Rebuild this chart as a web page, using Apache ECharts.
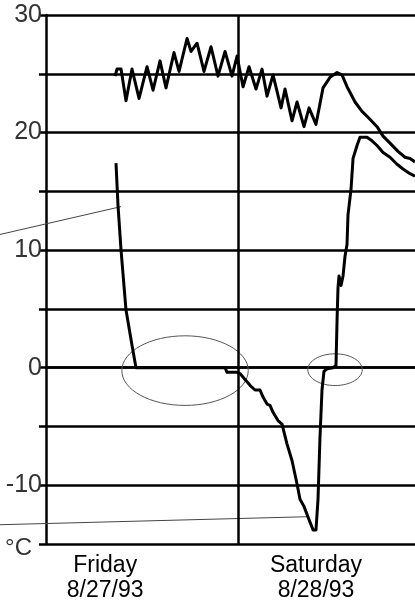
<!DOCTYPE html>
<html>
<head>
<meta charset="utf-8">
<script src="https://cdn.jsdelivr.net/npm/echarts@6/dist/echarts.min.js"></script>
<style>html,body{margin:0;padding:0;background:#fff}#c{width:415px;height:603px}</style>
</head>
<body>
<div id="c"></div>
<script>
// x = hours since Friday 00:00, y = °C
var dayLabelHours = [7.4, 33.75];
var dayLabels = ['Friday\n8/27/93', 'Saturday\n8/28/93'];
var midnightHour = [24];
var yTickLabels = {'30': '30', '20': '20', '10': '10', '0': '0', '-10': '-10', '-15': '°C'};
var unitTickValue = -15;

var upperTemp = [
  [8.63,24.8],[8.88,25.4],[9.38,25.4],[10.0,22.7],[10.75,25.4],[11.63,22.9],[12.63,25.6],
  [13.38,23.6],[14.25,26.1],[15.0,23.8],[16.0,26.8],[16.63,25.2],[17.63,28.0],[18.13,26.9],
  [18.88,27.6],[19.75,25.2],[20.63,27.3],[21.5,24.8],[22.38,26.9],[23.25,24.8],[23.88,26.5],
  [24.63,23.9],[25.38,25.6],[26.25,23.7],[27.0,25.4],[27.63,23.1],[28.38,24.9],[29.38,22.1],
  [29.88,23.7],[30.75,21.0],[31.38,22.6],[32.25,20.5],[32.88,22.1],[33.75,20.7],[34.63,23.8],
  [35.5,24.7],[36.38,25.1],[37.0,24.9],[37.63,23.9],[38.63,22.6],[39.5,21.8],[40.25,21.3],
  [41.38,20.5],[42.13,19.7],[43.0,19.1],[44.0,18.4],[44.88,17.9],[45.5,17.8],[46.13,17.5]
];
var lowerTemp = [
  [8.75,17.4],[9.0,13.8],[9.38,10.0],[10.0,4.9],[10.13,4.4],[10.75,1.9],[11.25,0],
  [22.38,0],[22.63,-0.4],[23.88,-0.4],[24.25,-0.5],[24.88,-1.0],[25.5,-1.5],[26.13,-1.9],
  [26.75,-1.9],[27.13,-2.5],[27.63,-3.1],[28.0,-3.2],[28.38,-3.8],[29.0,-4.5],[29.5,-4.8],
  [30.13,-6.5],[30.75,-7.9],[31.38,-9.9],[31.75,-11.2],[32.25,-11.8],[32.75,-12.7],
  [33.38,-13.8],[33.75,-13.8],[34.0,-11.2],[34.25,-5.9],[34.5,-1.9],[34.75,-0.3],
  [35.13,-0.1],[35.88,0],[36.25,0.2],[36.38,0.3],[36.38,4.0],[36.5,6.8],[36.63,7.8],
  [36.88,7.0],[37.13,7.8],[37.38,9.5],[37.63,10.5],[37.75,13.0],[38.13,15.2],[38.38,17.8],
  [38.88,18.9],[39.25,19.6],[40.13,19.6],[40.75,19.3],[41.38,18.9],[42.13,18.3],[43.0,17.9],
  [43.88,17.3],[44.63,16.9],[45.5,16.5],[46.13,16.3]
];
// [fromHour, fromTemp, toHour, toTemp]
var leaders = [[-5.75,11.33,9.38,13.7],[-5.75,-13.36,32.63,-12.68]];
// [centerHour, centerTemp, radiusHours, radiusTemp]
var ellipses = [[17.38,-0.25,7.9,2.96],[36.13,-0.17,3.4,1.35]];

var chart = echarts.init(document.getElementById('c'), null, {renderer: 'canvas'});
chart.setOption({
  animation: false,
  backgroundColor: '#fff',
  grid: {left: 46, right: 0, top: 15, bottom: 55, containLabel: false},
  xAxis: {
    type: 'value', min: 0, max: 46.125,
    axisLine: {show: true, lineStyle: {color: '#000', width: 2.5}},
    axisTick: {show: false},
    splitLine: {show: false},
    axisLabel: {
      customValues: dayLabelHours,
      margin: 9,
      color: '#000',
      fontFamily: 'Liberation Sans, Arial, sans-serif',
      fontSize: 23,
      lineHeight: 25,
      formatter: function (v) {
        var i = dayLabelHours.indexOf(v);
        return i >= 0 ? dayLabels[i] : '';
      }
    }
  },
  yAxis: {
    type: 'value', min: -15, max: 30, interval: 5,
    axisLine: {show: true, lineStyle: {color: '#000', width: 2.5}},
    axisTick: {show: true, length: 7, lineStyle: {color: '#000', width: 2.5}},
    splitLine: {show: true, lineStyle: {color: '#000', width: 2.5}},
    axisLabel: {
      margin: 4,
      color: '#333',
      fontFamily: 'Liberation Sans, Arial, sans-serif',
      fontSize: 25,
      formatter: function (v) {
        var k = String(v);
        if (!yTickLabels.hasOwnProperty(k)) return '';
        return v === unitTickValue ? '{u|' + yTickLabels[k] + '}' : yTickLabels[k];
      },
      rich: {
        u: {fontSize: 24, color: '#333', padding: [8, 10, 0, 0],
            fontFamily: 'Liberation Sans, Arial, sans-serif'}
      }
    }
  },
  series: [
    {
      type: 'line', data: upperTemp, showSymbol: false, symbol: 'none',
      lineStyle: {color: '#000', width: 3, join: 'round'}, z: 5,
      markLine: {
        silent: true, symbol: 'none', label: {show: false},
        lineStyle: {color: '#000', width: 2.5, type: 'solid'},
        data: midnightHour.map(function (h) { return {xAxis: h}; })
      }
    },
    {
      type: 'line', data: lowerTemp, showSymbol: false, symbol: 'none',
      lineStyle: {color: '#000', width: 3, join: 'round'}, z: 5
    },
    {
      type: 'custom', data: leaders, clip: false, z: 4,
      renderItem: function (params, api) {
        var a = api.coord([api.value(0), api.value(1)]);
        var b = api.coord([api.value(2), api.value(3)]);
        return {
          type: 'line',
          shape: {x1: a[0], y1: a[1], x2: b[0], y2: b[1]},
          style: {stroke: '#444', lineWidth: 1}
        };
      }
    },
    {
      type: 'custom', data: ellipses, clip: false, z: 4,
      renderItem: function (params, api) {
        var c = api.coord([api.value(0), api.value(1)]);
        var s = api.size([api.value(2), api.value(3)]);
        return {
          type: 'ellipse',
          shape: {cx: c[0], cy: c[1], rx: s[0], ry: s[1]},
          style: {fill: null, stroke: '#555', lineWidth: 1}
        };
      }
    }
  ]
});
</script>
</body>
</html>
